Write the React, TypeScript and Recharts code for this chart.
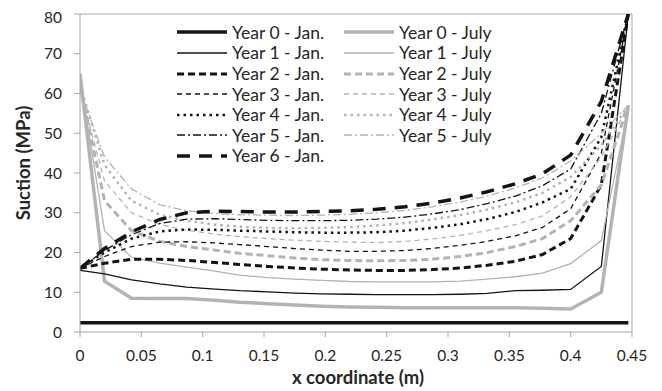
import React from 'react';
import { LineChart, Line, XAxis, YAxis, ReferenceLine } from 'recharts';

const X_COORDS = [0, 0.02, 0.042, 0.065, 0.087, 0.11, 0.13, 0.153, 0.175, 0.197, 0.22, 0.242, 0.265, 0.287, 0.31, 0.332, 0.355, 0.377, 0.4, 0.425, 0.447];

const YEAR0_JAN = [2.3, 2.3, 2.3, 2.3, 2.3, 2.3, 2.3, 2.3, 2.3, 2.3, 2.3, 2.3, 2.3, 2.3, 2.3, 2.3, 2.3, 2.3, 2.3, 2.3, 2.3];
const YEAR0_JULY = [65, 12.8, 8.5, 8.4, 8.4, 8, 7.5, 7.1, 6.8, 6.5, 6.3, 6.2, 6.1, 6.1, 6.1, 6.1, 6.1, 6, 5.8, 10, 57];
const YEAR1_JAN = [15.5, 14.6, 13.1, 12.1, 11.3, 10.8, 10.4, 10.1, 9.8, 9.6, 9.5, 9.4, 9.4, 9.4, 9.5, 9.7, 10.4, 10.5, 10.7, 16.5, 80];
const YEAR1_JULY = [64, 25.5, 18.8, 17.3, 16.3, 15.3, 14.3, 13.7, 13.3, 13, 12.7, 12.6, 12.6, 12.6, 12.8, 13.3, 13.9, 14.8, 17.2, 23, 56];
const YEAR2_JAN = [16, 17.3, 18.3, 18.3, 18, 17.5, 17, 16.5, 16.1, 15.8, 15.6, 15.5, 15.5, 15.7, 16.1, 16.8, 17.8, 19.5, 23.5, 37, 80];
const YEAR2_JULY = [62, 33, 25.5, 22.8, 21.5, 20.6, 19.8, 19.2, 18.6, 18.2, 18, 17.9, 18, 18.3, 19, 20, 21.5, 23.5, 28, 37, 57];
const YEAR3_JAN = [16, 19, 21.5, 22.6, 22.7, 22.4, 22, 21.5, 21, 20.6, 20.3, 20.3, 20.5, 21, 21.8, 22.8, 24.2, 26.3, 31, 45, 80];
const YEAR3_JULY = [61, 38, 30, 27, 25.6, 24.6, 24, 23.5, 23.1, 22.8, 22.6, 22.5, 22.8, 23.4, 24.3, 25.5, 27, 29.2, 34, 44, 57];
const YEAR4_JAN = [16, 20, 23.5, 25.3, 25.8, 25.7, 25.5, 25.3, 25.1, 25, 25, 25.1, 25.5, 26.2, 27.1, 28.4, 30.2, 32.6, 36, 49, 80];
const YEAR4_JULY = [62, 42, 33, 29.5, 28, 27, 26.5, 26.2, 26.1, 26.2, 26.4, 26.8, 27.4, 28.3, 29.4, 30.8, 32.6, 35, 39, 47, 57];
const YEAR5_JAN = [16, 20.5, 24.5, 27.3, 28.4, 28.5, 28.3, 28.1, 28, 28, 28.1, 28.4, 28.9, 29.7, 30.8, 32.3, 34.2, 36.8, 41, 55, 80];
const YEAR5_JULY = [61, 44, 36, 32, 30.5, 29.8, 29.5, 29.4, 29.3, 29.4, 29.6, 30, 30.6, 31.5, 32.7, 34.2, 36.2, 38.8, 43, 50, 57];
const YEAR6_JAN = [16, 21, 25.2, 28.3, 30, 30.4, 30.3, 30.2, 30.2, 30.3, 30.5, 30.9, 31.5, 32.4, 33.7, 35.3, 37.3, 39.8, 44.5, 58, 80];

const X_TICKS = [0, 0.05, 0.1, 0.15, 0.2, 0.25, 0.3, 0.35, 0.4, 0.45];
const Y_TICKS = [0, 10, 20, 30, 40, 50, 60, 70, 80];

const BLACK = '#141414';
const GRAY = '#b3b3b3';
const AXIS = '#a6a6a6';
const FONT = 'Lato, "Open Sans", sans-serif';

type S = { key: string; name: string; values: number[]; color: string; width: number; dash?: string };

const SERIES: S[] = [
  { key: 'y0jan', name: 'Year 0 - Jan.', values: YEAR0_JAN, color: BLACK, width: 3.5 },
  { key: 'y0jul', name: 'Year 0 - July', values: YEAR0_JULY, color: GRAY, width: 3.5 },
  { key: 'y1jan', name: 'Year 1 - Jan.', values: YEAR1_JAN, color: BLACK, width: 1.3 },
  { key: 'y1jul', name: 'Year 1 - July', values: YEAR1_JULY, color: GRAY, width: 1.3 },
  { key: 'y2jan', name: 'Year 2 - Jan.', values: YEAR2_JAN, color: BLACK, width: 3, dash: '7 4' },
  { key: 'y2jul', name: 'Year 2 - July', values: YEAR2_JULY, color: GRAY, width: 3, dash: '7 4' },
  { key: 'y3jan', name: 'Year 3 - Jan.', values: YEAR3_JAN, color: BLACK, width: 1.3, dash: '5 4' },
  { key: 'y3jul', name: 'Year 3 - July', values: YEAR3_JULY, color: GRAY, width: 1.3, dash: '5 4' },
  { key: 'y4jan', name: 'Year 4 - Jan.', values: YEAR4_JAN, color: BLACK, width: 2.5, dash: '2.5 4' },
  { key: 'y4jul', name: 'Year 4 - July', values: YEAR4_JULY, color: GRAY, width: 2.5, dash: '2.5 4' },
  { key: 'y5jan', name: 'Year 5 - Jan.', values: YEAR5_JAN, color: BLACK, width: 1.3, dash: '8 3 2 3' },
  { key: 'y5jul', name: 'Year 5 - July', values: YEAR5_JULY, color: GRAY, width: 1.3, dash: '8 3 2 3' },
  { key: 'y6jan', name: 'Year 6 - Jan.', values: YEAR6_JAN, color: BLACK, width: 3.5, dash: '13 9' },
];

const data = X_COORDS.map((x, i) => {
  const row: Record<string, number> = { x };
  SERIES.forEach((s) => {
    row[s.key] = s.values[i];
  });
  return row;
});

const LEGEND_COL1 = SERIES.filter((s) => s.color === BLACK);
const LEGEND_COL2 = SERIES.filter((s) => s.color === GRAY);

function LegendItem({ s, left, top }: { s: S; left: number; top: number }) {
  return (
    <div style={{ position: 'absolute', left, top, height: 20, display: 'flex', alignItems: 'center', whiteSpace: 'nowrap' }}>
      <svg width={50} height={20} style={{ display: 'block' }}>
        <line x1={0} y1={10} x2={50} y2={10} stroke={s.color} strokeWidth={s.width} strokeDasharray={s.dash} />
      </svg>
      <span style={{ marginLeft: 5, fontSize: 17.5, color: '#262626', fontFamily: FONT }}>{s.name}</span>
    </div>
  );
}

export default function App() {
  return (
    <div style={{ position: 'relative', width: 654, height: 383, fontFamily: FONT }}>
      <LineChart width={654} height={383} data={data} margin={{ top: 6, right: 30, left: 0, bottom: 0 }}>
        <XAxis
          type="number"
          dataKey="x"
          domain={[0, 0.45]}
          ticks={X_TICKS}
          allowDataOverflow
          stroke={AXIS}
          tickSize={5}
          tickMargin={13}
          height={59}
          tick={{ fill: '#262626', fontSize: 15.5, fontFamily: FONT }}
          tickLine={{ stroke: AXIS }}
        />
        <YAxis
          type="number"
          domain={[0, 80]}
          ticks={Y_TICKS}
          allowDataOverflow
          stroke={AXIS}
          tickSize={6}
          tickMargin={12}
          width={72}
          tick={{ fill: '#262626', fontSize: 15.5, fontFamily: FONT }}
          tickLine={{ stroke: AXIS }}
        />
        <ReferenceLine y={80} stroke={AXIS} strokeWidth={1} />
        <ReferenceLine x={0.45} stroke={AXIS} strokeWidth={1} />
        {SERIES.map((s) => (
          <Line
            key={s.key}
            type="linear"
            dataKey={s.key}
            name={s.name}
            stroke={s.color}
            strokeWidth={s.width}
            strokeDasharray={s.dash}
            dot={false}
            activeDot={false}
            isAnimationActive={false}
          />
        ))}
      </LineChart>
      {LEGEND_COL1.map((s, i) => (
        <LegendItem key={s.key} s={s} left={169} top={14.3 + i * 20.6} />
      ))}
      {LEGEND_COL2.map((s, i) => (
        <LegendItem key={s.key} s={s} left={336} top={14.3 + i * 20.6} />
      ))}
      <div
        style={{
          position: 'absolute',
          left: 350 - 100,
          top: 358,
          width: 200,
          textAlign: 'center',
          fontWeight: 700,
          fontSize: 18.5,
          color: '#262626',
          fontFamily: FONT,
          whiteSpace: 'nowrap',
        }}
      >
        x coordinate (m)
      </div>
      <div
        style={{
          position: 'absolute',
          left: 15 - 100,
          top: 155 - 12,
          width: 200,
          height: 24,
          lineHeight: '24px',
          textAlign: 'center',
          fontWeight: 700,
          fontSize: 18.5,
          color: '#262626',
          fontFamily: FONT,
          whiteSpace: 'nowrap',
          transform: 'rotate(-90deg)',
        }}
      >
        Suction (MPa)
      </div>
    </div>
  );
}
